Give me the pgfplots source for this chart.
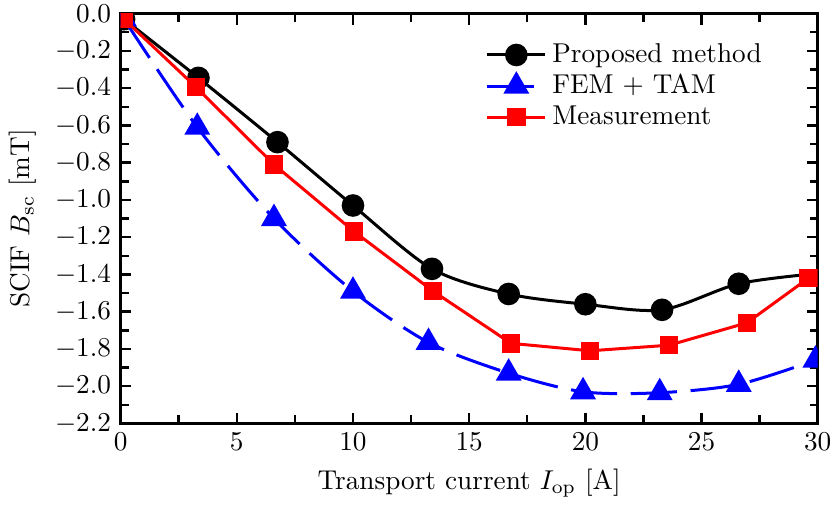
\documentclass[border=0pt]{standalone}
\usepackage{pgfplots}
\pgfplotsset{compat=1.18}
\begin{document}
\begin{tikzpicture}
\begin{axis}[
	name=ax,
	scale only axis,
	width=256pt,
	height=150.5pt,
	xmin=0, xmax=30,
	ymin=-2.2, ymax=0,
	xtick={0,5,...,30},
	ytick={-2.2,-2.0,...,0},
	minor x tick num=1,
	minor y tick num=1,
	tick align=inside,
	major tick length=4pt,
	minor tick length=3pt,
	every tick/.style={line width=0.9pt},
	axis line style={line width=1pt},
	yticklabel style={/pgf/number format/fixed,/pgf/number format/precision=1,/pgf/number format/fixed zerofill},
	xlabel={Transport current $I_{\mathrm{op}}$ [A]},
	ylabel={SCIF $B_{\mathrm{sc}}$ [mT]},
	legend style={draw=none, fill=none, at={(0.94,0.955)}, anchor=north east, row sep=-1.1pt},
	legend cell align=left,
	legend image code/.code={\draw[mark repeat=2,mark phase=2] plot coordinates {(0cm,0cm) (0.375cm,0cm) (0.75cm,0cm)};},
	clip marker paths=true,
]
\addlegendimage{black, line width=1.1pt, mark=*, mark size=3.6pt}
\addlegendentry{Proposed method}
\addplot[black, line width=1.1pt, smooth, mark=*, mark size=3.6pt, mark indices={1,...,9}, forget plot] coordinates {
	(0.15,-0.03) (3.35,-0.345) (6.75,-0.69) (10.0,-1.03) (13.4,-1.37)
	(16.7,-1.505) (20.0,-1.56) (23.3,-1.59) (26.6,-1.45) (30,-1.395)
};
\addplot[blue, line width=1.1pt, smooth, dash pattern=on 17pt off 5pt, mark=triangle*, mark size=4.4pt, mark options={solid}] coordinates {
	(0.15,-0.03) (3.3,-0.61) (6.6,-1.10) (10.0,-1.49) (13.25,-1.765)
	(16.7,-1.93) (19.9,-2.03) (23.2,-2.035) (26.6,-1.99) (29.9,-1.86)
};
\addlegendentry{FEM + TAM}
\addplot[red, line width=1.1pt, mark=square*, mark size=2.85pt] coordinates {
	(0.15,-0.03) (3.25,-0.395) (6.6,-0.81) (10.05,-1.17) (13.45,-1.49)
	(16.8,-1.77) (20.2,-1.81) (23.6,-1.78) (26.95,-1.66) (29.6,-1.42)
};
\addlegendentry{Measurement}
\end{axis}
\pgfresetboundingbox
\path[use as bounding box] (ax.outer south west) rectangle ([xshift=4.5pt,yshift=5pt]ax.north east);
\end{tikzpicture}
\end{document}
